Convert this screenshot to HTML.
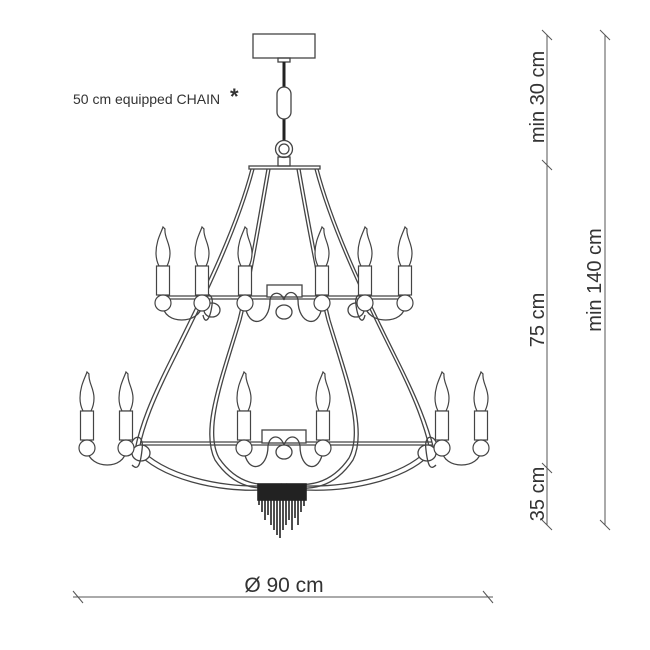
<!DOCTYPE html>
<html><head><meta charset="utf-8"><style>
html,body{margin:0;padding:0;background:#fff;}
svg{display:block}
text{font-family:"Liberation Sans",sans-serif;fill:#333}
</style></head><body>
<svg width="650" height="650" viewBox="0 0 650 650" xmlns="http://www.w3.org/2000/svg">
<defs>
<g id="c" fill="#fff" stroke="#444" stroke-width="1.2">
<path d="M0,0 C-2,6 -7,14 -7,26 C-7,33 -5,37 -4,39 L4,39 C5,37 7,33 7,26 C7,16 1,10 2,2 Z"/>
<rect x="-6.5" y="39" width="13" height="29"/>
<ellipse cx="0" cy="76" rx="8" ry="8"/>
</g>
</defs>
<g fill="none" stroke="#444" stroke-width="1.3">
<rect x="253" y="34" width="62" height="24" fill="#fff"/>
<rect x="278" y="58" width="12" height="4"/>
<line x1="284" y1="62" x2="284" y2="140" stroke="#222" stroke-width="3"/>
<rect x="277" y="87" width="14" height="32" rx="7" fill="#fff"/>
<circle cx="284" cy="149" r="8.5" fill="#fff"/>
<circle cx="284" cy="149" r="5"/>
<rect x="278" y="157" width="12" height="9"/>
<rect x="249" y="166" width="71" height="3"/>
<path d="M251,169 C235,230 200,300 170,360 C150,400 140,425 135,450"/>
<path d="M254,169 C238,230 204,300 174,360 C154,400 144,425 139,450"/>
<path d="M318,169 C334,230 368,300 398,360 C418,400 428,425 434,450"/>
<path d="M315,169 C331,230 365,300 395,360 C415,400 424,425 430,450"/>
<path d="M267,169 C258,220 248,280 238,320 C220,380 200,430 215,460 C235,490 260,490 280,487"/>
<path d="M270,169 C261,220 251,280 241,320 C223,380 204,430 219,458 C238,486 262,486 282,484"/>
<path d="M300,169 C309,220 320,280 330,320 C348,380 368,430 353,460 C333,490 308,490 288,487"/>
<path d="M297,169 C306,220 317,280 327,320 C345,380 364,430 349,458 C330,486 306,486 286,484"/>
<path d="M135,450 C160,480 220,492 260,490 M305,490 C350,492 410,480 434,450"/>
<path d="M139,447 C164,476 222,487 260,486 M305,486 C348,487 406,476 430,447"/>
<line x1="160" y1="296" x2="410" y2="296"/><line x1="160" y1="299" x2="410" y2="299"/>
<line x1="140" y1="442" x2="432" y2="442"/><line x1="140" y1="445" x2="432" y2="445"/>
<rect x="267" y="285" width="35" height="12" fill="#fff"/>
<rect x="262" y="430" width="44" height="13" fill="#fff"/>
<path d="M163,305 C163,325 200,325 202,305"/>
<path d="M365,305 C367,325 405,325 405,305"/>
<path d="M245,305 C248,330 270,325 270,300 C272,290 282,292 284,300 C286,290 296,290 298,300 C298,325 320,330 322,305"/>
<ellipse cx="284" cy="312" rx="8" ry="7" fill="#fff"/>
<ellipse cx="212" cy="310" rx="8" ry="7" fill="#fff"/>
<ellipse cx="356" cy="310" rx="8" ry="7" fill="#fff"/>
<path d="M200,310 C195,292 215,288 212,305 C210,320 205,325 203,315"/>
<path d="M368,310 C373,292 353,288 356,305 C358,320 363,325 365,315"/>
<path d="M87,450 C90,470 125,470 126,450"/>
<path d="M442,450 C443,470 480,470 481,450"/>
<path d="M244,450 C247,475 268,470 268,446 C270,433 282,435 284,446 C286,435 298,433 300,446 C300,470 320,475 323,450"/>
<ellipse cx="284" cy="452" rx="8" ry="7" fill="#fff"/>
<ellipse cx="141" cy="453" rx="9" ry="8" fill="#fff"/>
<ellipse cx="427" cy="453" rx="9" ry="8" fill="#fff"/>
<path d="M130,455 C128,435 145,430 142,450 C140,468 137,470 132,465"/>
<path d="M438,455 C440,435 423,430 426,450 C428,468 431,470 436,465"/>
</g>
<use href="#c" x="163" y="227"/><use href="#c" x="202" y="227"/><use href="#c" x="245" y="227"/>
<use href="#c" x="322" y="227"/><use href="#c" x="365" y="227"/><use href="#c" x="405" y="227"/>
<use href="#c" x="87" y="372"/><use href="#c" x="126" y="372"/><use href="#c" x="244" y="372"/>
<use href="#c" x="323" y="372"/><use href="#c" x="442" y="372"/><use href="#c" x="481" y="372"/>
<g stroke="#222" stroke-width="1.6">
<path d="M259,484V505 M262,484V512 M265,484V520 M268,484V515 M271,484V525 M274,484V530 M277,484V535 M280,484V538 M283,484V530 M286,484V525 M289,484V520 M292,484V530 M295,484V518 M298,484V525 M301,484V512 M304,484V506"/>
<rect x="258" y="484" width="48" height="16" fill="#222"/>
</g>
<g stroke="#555" stroke-width="1">
<line x1="547" y1="35" x2="547" y2="525"/>
<line x1="542" y1="30" x2="552" y2="40"/><line x1="542" y1="160" x2="552" y2="170"/>
<line x1="542" y1="463" x2="552" y2="473"/><line x1="542" y1="520" x2="552" y2="530"/>
<line x1="605" y1="35" x2="605" y2="525"/>
<line x1="600" y1="30" x2="610" y2="40"/><line x1="600" y1="520" x2="610" y2="530"/>
<line x1="73" y1="597" x2="493" y2="597"/>
<line x1="73" y1="591" x2="83" y2="603"/><line x1="483" y1="591" x2="493" y2="603"/>
</g>
<text x="73" y="104" font-size="14">50 cm equipped CHAIN</text>
<text x="230" y="104" font-size="22" font-weight="bold">*</text>
<text x="0" y="0" font-size="20" text-anchor="middle" transform="translate(544,97) rotate(-90)">min 30 cm</text>
<text x="0" y="0" font-size="20" text-anchor="middle" transform="translate(544,320) rotate(-90)">75 cm</text>
<text x="0" y="0" font-size="20" text-anchor="middle" transform="translate(544,494) rotate(-90)">35 cm</text>
<text x="0" y="0" font-size="20" text-anchor="middle" transform="translate(601,280) rotate(-90)">min 140 cm</text>
<text x="284" y="592" font-size="21" text-anchor="middle">Ø 90 cm</text>
</svg>
</body></html>
